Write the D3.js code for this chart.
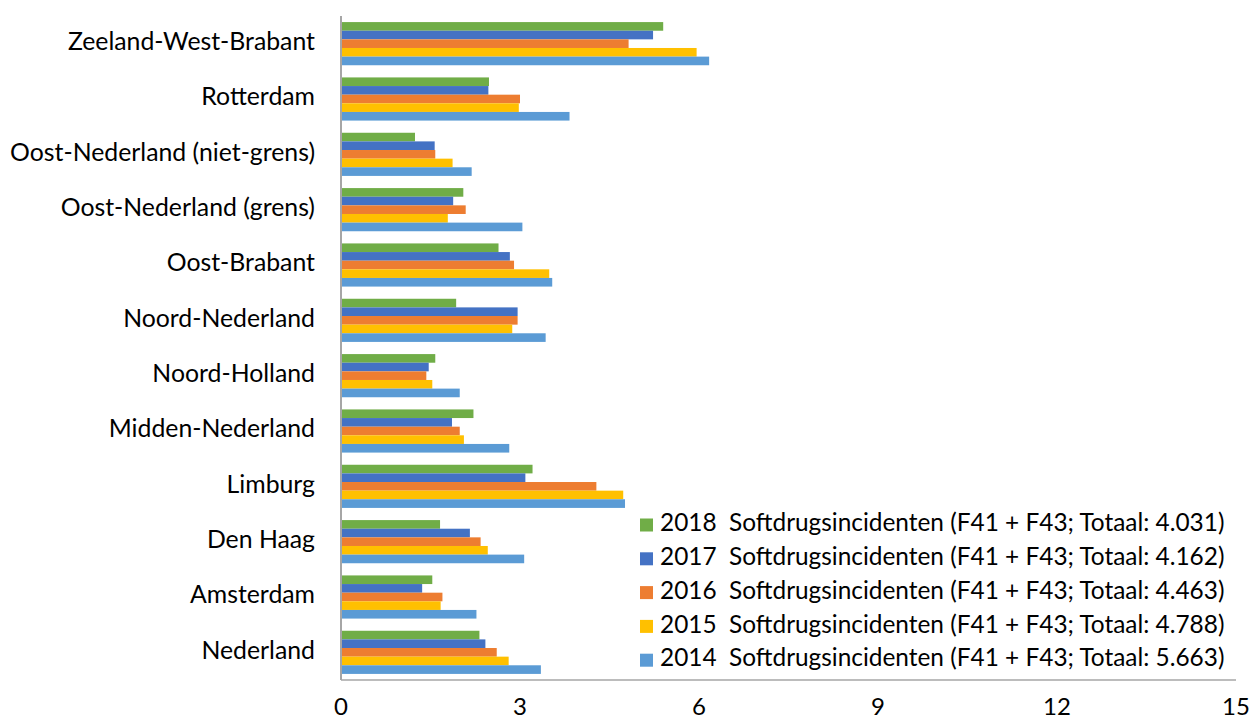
<!DOCTYPE html>
<html>
<head>
<meta charset="utf-8">
<script src="https://cdn.jsdelivr.net/npm/d3@7"></script>
<style>
  body { margin: 0; background: #fff; }
  svg { display: block; }
  text { font-family: Lato, "Open Sans", sans-serif; fill: #000; }
</style>
</head>
<body>
<svg id="chart"></svg>
<script>
// regions, top to bottom as drawn
const regions = ["Zeeland-West-Brabant", "Rotterdam", "Oost-Nederland (niet-grens)",
  "Oost-Nederland (grens)", "Oost-Brabant", "Noord-Nederland", "Noord-Holland",
  "Midden-Nederland", "Limburg", "Den Haag", "Amsterdam", "Nederland"];

const years = ["2018", "2017", "2016", "2015", "2014"];
const totals = ["4.031", "4.162", "4.463", "4.788", "5.663"];
const colors = ["#70AD47", "#4472C4", "#ED7D31", "#FFC000", "#5B9BD5"];

// values per year, same order as regions
const v2018 = [5.40, 2.48, 1.24, 2.05, 2.64, 1.93, 1.58, 2.22, 3.21, 1.66, 1.53, 2.32];
const v2017 = [5.23, 2.47, 1.57, 1.88, 2.83, 2.96, 1.47, 1.86, 3.09, 2.16, 1.36, 2.42];
const v2016 = [4.82, 3.00, 1.58, 2.09, 2.90, 2.96, 1.43, 1.99, 4.28, 2.34, 1.70, 2.61];
const v2015 = [5.96, 2.98, 1.87, 1.79, 3.49, 2.87, 1.53, 2.06, 4.73, 2.46, 1.67, 2.81];
const v2014 = [6.17, 3.83, 2.19, 3.04, 3.54, 3.43, 1.99, 2.82, 4.76, 3.07, 2.27, 3.35];

const xTicks = [0, 3, 6, 9, 12, 15];

const series = [v2018, v2017, v2016, v2015, v2014];

const width = 1251, height = 724;
const margin = {top: 16, right: 15, bottom: 44, left: 341};

const svg = d3.select("#chart").attr("width", width).attr("height", height);

const x = d3.scaleLinear().domain([0, 15]).range([margin.left, width - margin.right]);
const y = d3.scaleBand().domain(regions)
  .range([margin.top, height - margin.bottom])
  .paddingInner(0.22).paddingOuter(0.11);
const yInner = d3.scaleBand().domain(years).range([0, y.bandwidth()]);

// bars
const groups = svg.append("g")
  .selectAll("g")
  .data(regions)
  .join("g")
  .attr("transform", d => `translate(0,${y(d)})`);

groups.selectAll("rect")
  .data((d, i) => years.map((yr, j) => ({year: yr, value: series[j][i], color: colors[j]})))
  .join("rect")
  .attr("x", x(0))
  .attr("y", d => yInner(d.year))
  .attr("width", d => x(d.value) - x(0))
  .attr("height", yInner.bandwidth())
  .attr("fill", d => d.color);

// axes
const axisY = height - margin.bottom;
svg.append("line")
  .attr("x1", x(0)).attr("x2", x(15))
  .attr("y1", axisY).attr("y2", axisY)
  .attr("stroke", "#a6a6a6").attr("stroke-width", 1.5);
svg.append("line")
  .attr("x1", x(0)).attr("x2", x(0))
  .attr("y1", margin.top).attr("y2", axisY)
  .attr("stroke", "#a6a6a6").attr("stroke-width", 2);

svg.append("g")
  .selectAll("text")
  .data(xTicks)
  .join("text")
  .attr("x", d => x(d))
  .attr("y", 709)
  .attr("text-anchor", "middle")
  .attr("dominant-baseline", "middle")
  .style("font-size", "24px")
  .text(d => d);

svg.append("g")
  .selectAll("text")
  .data(regions)
  .join("text")
  .attr("x", x(0) - 26)
  .attr("y", d => y(d) + y.bandwidth() / 2)
  .attr("text-anchor", "end")
  .attr("dominant-baseline", "middle")
  .style("font-size", "24.8px")
  .text(d => d);

// legend
const legend = svg.append("g")
  .selectAll("g")
  .data(years)
  .join("g")
  .attr("transform", (d, i) => `translate(640,${525 + i * 33.8})`);

legend.append("rect")
  .attr("x", 0).attr("y", -6.5)
  .attr("width", 13).attr("height", 13)
  .attr("fill", (d, i) => colors[i]);

legend.append("text")
  .attr("x", 20)
  .attr("y", 0)
  .attr("dominant-baseline", "middle")
  .style("font-size", "24.4px")
  .style("white-space", "pre")
  .text((d, i) => `${d}  Softdrugsincidenten (F41 + F43; Totaal: ${totals[i]})`);
</script>
</body>
</html>
